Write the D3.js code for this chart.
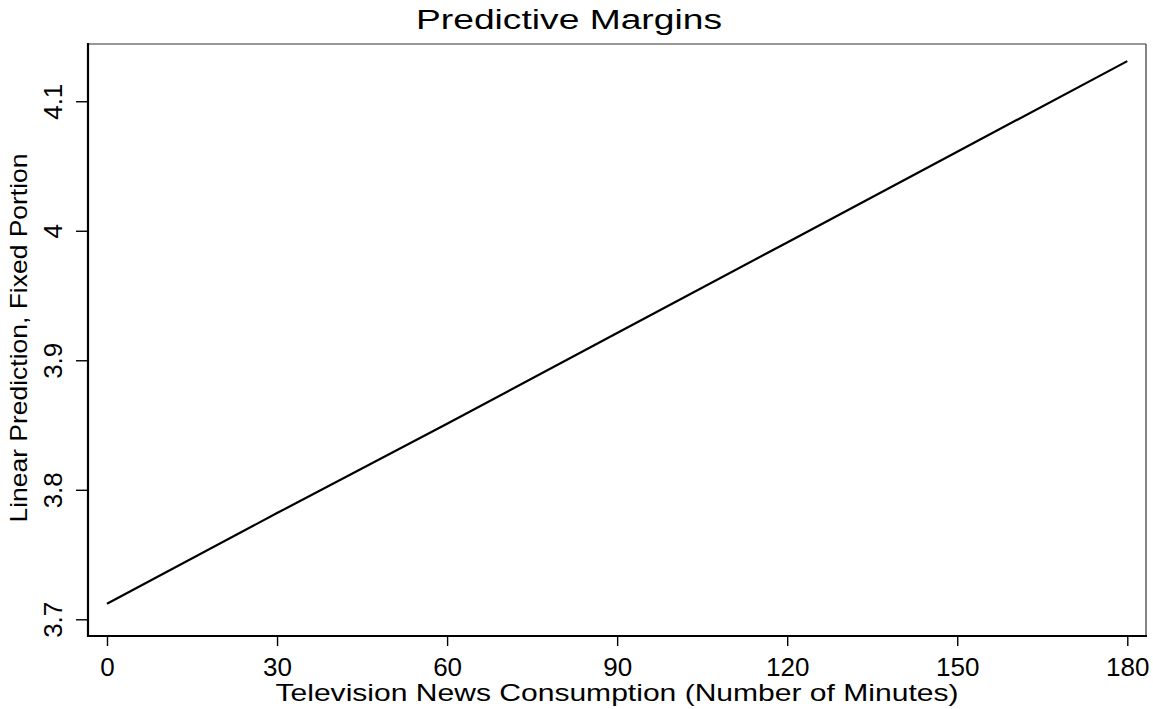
<!DOCTYPE html>
<html>
<head>
<meta charset="utf-8">
<script src="https://cdn.jsdelivr.net/npm/d3@7"></script>
<style>
	body { margin: 0; background: #fff; }
	text { font-family: "Liberation Sans", Arial, Helvetica, sans-serif; fill: #000; }
</style>
</head>
<body>
<div id="chart"></div>
<script>
// values
var minutes = [0, 30, 60, 90, 120, 150, 180];
var prediction = [3.712, 3.782, 3.851, 3.921, 3.991, 4.061, 4.131];
var xTicks = [0, 30, 60, 90, 120, 150, 180];
var yTicks = [3.7, 3.8, 3.9, 4, 4.1];

var w = 1153;
var h = 709;
var boxL = 88, boxR = 1146, boxT = 44, boxB = 636;

var svg = d3.select("#chart")
			.append("svg")
			.attr("width", w)
			.attr("height", h);

var x = d3.scaleLinear()
		  .domain([-3.35, 183.3])
		  .range([boxL, boxR]);
var y = d3.scaleLinear()
		  .domain([3.6871, 4.1442])
		  .range([boxB, boxT]);

// plot box, top and right edges are thin
svg.append("line")
   .attr("x1", boxL).attr("x2", boxR)
   .attr("y1", boxT).attr("y2", boxT)
   .attr("stroke", "#333").attr("stroke-width", 1.2);
svg.append("line")
   .attr("x1", boxR).attr("x2", boxR)
   .attr("y1", boxT).attr("y2", boxB)
   .attr("stroke", "#333").attr("stroke-width", 1.2);

// y axis
var yAxis = svg.append("g")
			   .attr("transform", "translate(" + boxL + ",0)")
			   .call(d3.axisLeft(y)
					   .tickValues(yTicks)
					   .tickSize(12)
					   .tickSizeOuter(0)
					   .tickFormat(d3.format("")));
yAxis.select(".domain").attr("stroke-width", 2.2).attr("d", "M0," + (boxT - 1) + "V" + (boxB + 1));
yAxis.selectAll(".tick line").attr("stroke-width", 1.4);
yAxis.selectAll(".tick text")
	 .attr("transform", "rotate(-90)")
	 .attr("x", 0)
	 .attr("y", -26)
	 .attr("dy", 0)
	 .attr("text-anchor", "middle")
	 .style("font-size", "26px")
	 .style("font-family", "'Liberation Sans', Arial, sans-serif");

// x axis
var xAxis = svg.append("g")
			   .attr("transform", "translate(0," + boxB + ")")
			   .call(d3.axisBottom(x)
					   .tickValues(xTicks)
					   .tickSize(10)
					   .tickSizeOuter(0));
xAxis.select(".domain").attr("stroke-width", 2.2).attr("d", "M" + (boxL - 1) + ",0H" + (boxR + 1));
xAxis.selectAll(".tick line").attr("stroke-width", 1.4);
xAxis.selectAll(".tick text")
	 .attr("y", 40)
	 .attr("dy", 0)
	 .style("font-size", "26px")
	 .style("font-family", "'Liberation Sans', Arial, sans-serif");

// prediction line
var line = d3.line()
			 .x((d, i) => x(minutes[i]))
			 .y(d => y(d));
svg.append("path")
   .datum(prediction)
   .attr("d", line)
   .attr("fill", "none")
   .attr("stroke", "#000")
   .attr("stroke-width", 2.2);

// titles
svg.append("text")
   .attr("x", 569).attr("y", 29)
   .attr("text-anchor", "middle")
   .attr("textLength", 306)
   .attr("lengthAdjust", "spacingAndGlyphs")
   .style("font-size", "27px")
   .text("Predictive Margins");

svg.append("text")
   .attr("x", 617).attr("y", 701)
   .attr("text-anchor", "middle")
   .attr("textLength", 683)
   .attr("lengthAdjust", "spacingAndGlyphs")
   .style("font-size", "24px")
   .text("Television News Consumption (Number of Minutes)");

svg.append("text")
   .attr("transform", "translate(27,338) rotate(-90)")
   .attr("text-anchor", "middle")
   .attr("textLength", 369)
   .attr("lengthAdjust", "spacingAndGlyphs")
   .style("font-size", "24px")
   .text("Linear Prediction, Fixed Portion");
</script>
</body>
</html>
